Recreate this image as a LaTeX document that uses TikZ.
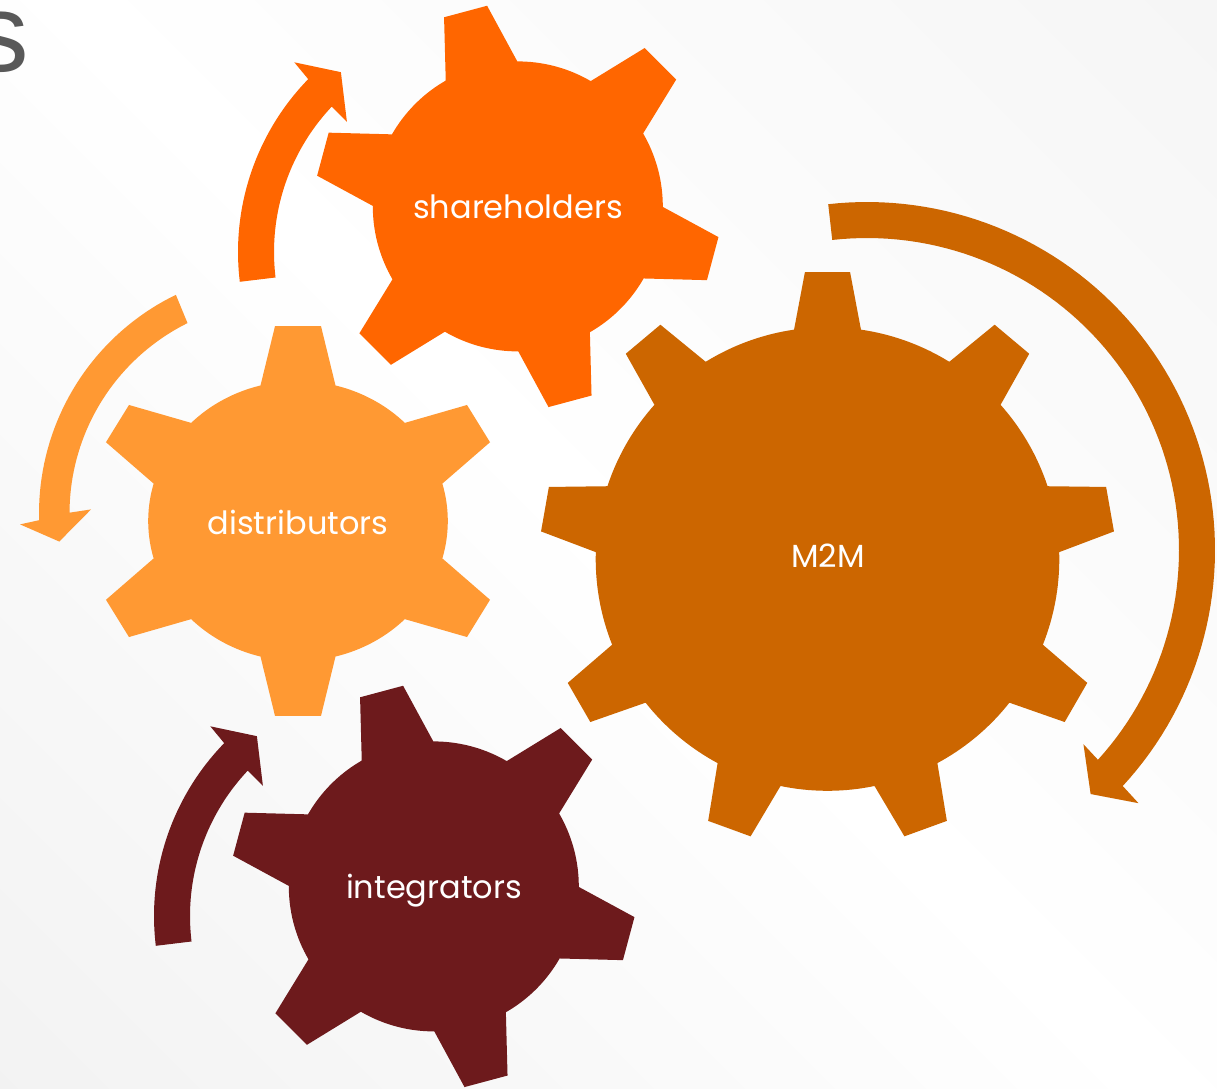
\documentclass[tikz,border=0pt]{standalone}
\usepackage{fontspec}
\newfontfamily\gearfont{Poppins}
\newfontfamily\titlefont{Liberation Sans}
\definecolor{cSh}{HTML}{FF6600}
\definecolor{cDi}{HTML}{FF9933}
\definecolor{cMm}{HTML}{CC6600}
\definecolor{cIn}{HTML}{6D1A1C}
\definecolor{cTitle}{HTML}{595959}
\pgfdeclarehorizontalshading{bgshade}{100bp}{color(0bp)=(black!7); color(50bp)=(white); color(100bp)=(black!5)}
% #1 options, #2 teeth, #3 first angle, #4 tip radius, #5 tip half angle, #6 base radius, #7 base half angle
\newcommand\gearfill[7]{%
  \fill[#1] ({#3-#7}:#6)
  \foreach \k in {1,...,#2}{
    -- ({#3+(\k-1)*360/#2-#5}:#4) -- ({#3+(\k-1)*360/#2+#5}:#4)
    -- ({#3+(\k-1)*360/#2+#7}:#6)
    -- plot[domain={#3+(\k-1)*360/#2+#7}:{#3+\k*360/#2-#7}, samples=18] (\x:#6)
  } -- cycle;
}
\tikzset{glabel/.style={font=\gearfont\fontsize{32}{32}\selectfont, text=white, anchor=base, inner sep=0pt}}
\begin{document}
\begin{tikzpicture}[x=1pt,y=-1pt]
\useasboundingbox (0,0) rectangle (1217,1088);
\shade[shading=bgshade, shading angle=45] (0,0) rectangle (1217,1088);
\node[font=\titlefont\fontsize{111}{111}\selectfont, text=cTitle, anchor=base east, inner sep=0pt] (ttl) at (29,71) {s};
% circular arrows
\fill[cSh, shift={(486,252)}] (173.1:248) -- plot[domain=173.1:224.2, samples=40] (\x:248)
  -- (224.7:269.7) -- (231.1:231.1) -- (223.1:190.5) -- (223.3:212)
  -- plot[domain=223.3:173.1, samples=40] (\x:212) -- cycle;
\fill[cIn, shift={(402,916)}] (173.1:248) -- plot[domain=173.1:224.2, samples=40] (\x:248)
  -- (224.7:269.7) -- (231.1:231.1) -- (223.1:190.5) -- (223.3:212)
  -- plot[domain=223.3:173.1, samples=40] (\x:212) -- cycle;
\fill[cDi, shift={(282,513.4)}] (244.1:243) -- plot[domain=244.1:178.4, samples=40] (\x:243)
  -- (177.6:262.2) -- (172.8:224.5) -- (181.2:191) -- (180.2:212.5)
  -- plot[domain=180.2:243.6, samples=40] (\x:212.5) -- cycle;
\fill[cMm, shift={(867,550)}] (-96.4:348) -- plot[domain=-96.4:42.7, samples=80] (\x:348)
  -- (43:371.2) -- (47.5:331) -- (41.9:290.8) -- (42.25:312)
  -- plot[domain=42.25:-96.4, samples=80] (\x:312) -- cycle;
% gears
\gearfill{cSh, shift={(517.8,206.4)}}{6}{255}{203}{6.3}{145}{14.8}
\gearfill{cIn, shift={(433.8,886.4)}}{6}{255}{203}{6.3}{145}{14.8}
\gearfill{cDi, shift={(298,521)}, xscale=1.07}{6}{30}{196}{6.3}{140}{14.5}
\gearfill{cMm, shift={(827.5,559)}}{9}{30}{287.8}{4.5}{231.8}{8.3}
% labels
\node[glabel] (sh) at (518,218.3) {shareholders};
\node[glabel] (di) at (298,534) {distributors};
\node[glabel] (mm) at (828,567) {M2M};
\node[glabel] (in) at (434,898.3) {integrators};
\end{tikzpicture}
\end{document}
